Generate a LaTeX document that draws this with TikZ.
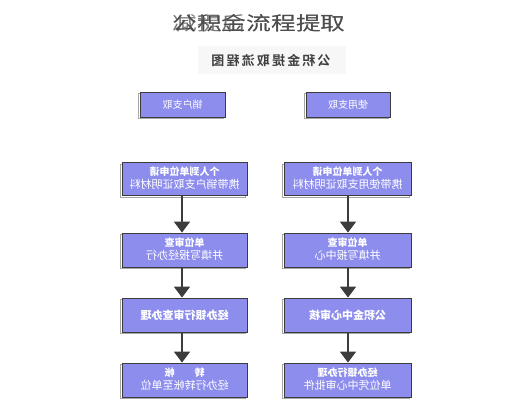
\documentclass[tikz,border=0pt]{standalone}
\usepackage{fontspec}
\newfontfamily\cjk{Noto Sans CJK SC}
\newfontfamily\cjkb{Noto Sans CJK SC Bold}
\usetikzlibrary{arrows.meta}
\definecolor{boxblue}{RGB}{141,141,238}
\definecolor{edgegray}{RGB}{60,60,60}
\tikzset{
  fbox/.style={fill=boxblue, draw=edgegray, line width=0.9pt, inner sep=0pt,
    text=white, font=\cjk\fontsize{11}{13}\selectfont,
    preaction={draw=black!35, line width=0.8pt, transform canvas={shift={(-1.5pt,-1.5pt)}}}},
  flowarrow/.style={draw=edgegray, line width=1.8pt, -{Triangle[width=16pt,length=11pt]}},
}
\newcommand{\mtext}[2]{\reflectbox{\begin{tabular}{@{}c@{}}{\fontsize{10}{12}\selectfont\textbf{#1}}\\[0pt] #2\end{tabular}}}
\begin{document}
\begin{tikzpicture}[x=1pt,y=-1pt]
\useasboundingbox (0,0) rectangle (511,400);
\fill[white] (0,0) rectangle (511,400);
% overlapping heading
\node[font=\cjk\fontsize{19}{19}\selectfont, xscale=1.3, transform shape, text=black!70] (h1) at (259,23) {公积金流程提取};
\node[font=\cjk\fontsize{19}{19}\selectfont, xscale=1.3, transform shape, text=black!70, opacity=0.75] (h2) at (259,23) {减提后流程提取};
% title band
\fill[black!3] (198,46) rectangle (346,74);
\node[font=\cjkb\fontsize{13}{13}\selectfont, text=black!75] (title) at (271,60) {\reflectbox{公\,积\,金\,提\,取\,流\,程\,图}};
% top boxes
\node[fbox, minimum width=85pt, minimum height=25pt, font=\cjk\fontsize{10}{10}\selectfont] (lt) at (182.5,104.5) {\reflectbox{销户支取}};
\node[fbox, minimum width=84pt, minimum height=25pt, font=\cjk\fontsize{10}{10}\selectfont] (rt) at (348,104.5) {\reflectbox{使用支取}};
% left column
\node[fbox, minimum width=125pt, minimum height=33pt] (l2) at (184.5,179) {\mtext{个人到单位申请}{携带销户支取证明材料}};
\node[fbox, minimum width=125pt, minimum height=34pt] (l3) at (184.5,250) {\mtext{单位审查}{并填写报经办行}};
\node[fbox, minimum width=125pt, minimum height=34pt] (l4) at (184.5,315) {\reflectbox{\textbf{经办银行审查办理}}};
\node[fbox, minimum width=125pt, minimum height=34pt] (l5) at (184.5,380) {\mtext{转\qquad 帐}{经办行转帐至单位}};
% right column
\node[fbox, minimum width=127pt, minimum height=33pt] (r2) at (347.5,179) {\mtext{个人到单位申请}{携带使用支取证明材料}};
\node[fbox, minimum width=127pt, minimum height=34pt] (r3) at (347.5,250) {\mtext{单位审查}{并填写报中心}};
\node[fbox, minimum width=127pt, minimum height=34pt] (r4) at (347.5,315) {\reflectbox{\textbf{公积金中心审核}}};
\node[fbox, minimum width=127pt, minimum height=34pt] (r5) at (347.5,380) {\mtext{经办银行办理}{单位凭中心审批件}};
% arrows
\draw[flowarrow] (l2.south -| 182,0) -- (l3.north -| 182,0);
\draw[flowarrow] (l3.south -| 182,0) -- (l4.north -| 182,0);
\draw[flowarrow] (l4.south -| 182,0) -- (l5.north -| 182,0);
\draw[flowarrow] (r2.south -| 348,0) -- (r3.north -| 348,0);
\draw[flowarrow] (r3.south -| 348,0) -- (r4.north -| 348,0);
\draw[flowarrow] (r4.south -| 348,0) -- (r5.north -| 348,0);
\end{tikzpicture}
\end{document}
